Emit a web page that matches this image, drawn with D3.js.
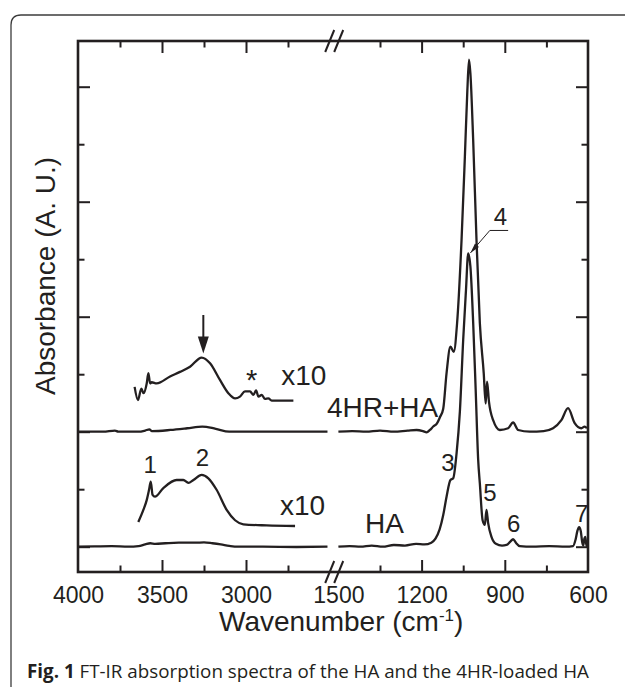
<!DOCTYPE html>
<html>

<head>
  <meta charset="utf-8">
  <title>FT-IR spectra</title>
  <style>
    body { margin: 0; background: #fff; }
    svg { font-family: "Liberation Sans", Arial, sans-serif; }
    text { fill: #231f20; }
  </style>
</head>

<body>

  <svg id="main" width="625" height="687"></svg>

  <script src="https://cdn.jsdelivr.net/npm/d3@7"></script>
  <script>

    // [wavenumber (cm-1), absorbance in tick units]
    const haLeft = [
      [4000, 0], [3900, 0.005], [3800, 0.01], [3700, 0.0], [3640, 0.01], [3600, 0.04],
      [3570, 0.06], [3540, 0.05], [3480, 0.06], [3400, 0.07], [3300, 0.07], [3250, 0.075],
      [3200, 0.06], [3150, 0.04], [3100, 0.015], [3050, 0.0], [2900, 0.0], [2700, -0.005], [2515, 0]
    ]
    const haRight = [
      [1500, 0], [1460, 0.01], [1420, 0.0], [1380, 0.02], [1340, 0.0], [1300, 0.03], [1260, 0.02],
      [1220, 0.05], [1190, 0.04], [1165, 0.07], [1150, 0.14], [1135, 0.3], [1122, 0.55], [1110, 0.87],
      [1096, 1.16], [1086, 1.19], [1074, 1.62], [1062, 2.35], [1050, 3.6], [1040, 4.46], [1032, 5.1],
      [1024, 4.87], [1014, 3.89], [1005, 2.73], [996, 1.51], [990, 1.1], [980, 0.46], [972, 0.38],
      [966, 0.64], [960, 0.41], [948, 0.17], [932, 0.05], [910, 0.02], [894, 0.03], [880, 0.09],
      [870, 0.13], [860, 0.07], [846, 0.01], [800, 0.0], [740, 0.01], [680, 0.0], [654, 0.01],
      [645, 0.12], [638, 0.28], [632, 0.34], [626, 0.27], [621, 0.08], [617, 0.02], [613, 0.14],
      [610, 0.17], [606, 0.04], [603, 0.0]
    ]
    const haX10 = [
      [3641, 0.43], [3611, 0.64], [3591, 0.81], [3577, 0.99], [3567, 1.13], [3556, 0.9], [3542, 0.87],
      [3492, 1.02], [3413, 1.16], [3373, 1.16], [3343, 1.11], [3313, 1.16], [3264, 1.25], [3224, 1.19],
      [3175, 0.99], [3115, 0.64], [3065, 0.46], [3016, 0.39], [2877, 0.37], [2708, 0.36]
    ]
    const hrLeft = [
      [4000, 2.0], [3850, 2.0], [3780, 2.02], [3760, 2.0], [3640, 2.0], [3600, 2.02], [3575, 2.04],
      [3560, 2.01], [3450, 2.03], [3350, 2.06], [3260, 2.09], [3180, 2.05], [3100, 2.0], [2900, 2.0], [2515, 2.0]
    ]
    const hrRight = [
      [1500, 2.0], [1450, 2.01], [1400, 2.0], [1350, 2.02], [1300, 2.0], [1250, 2.02], [1218, 2.03],
      [1195, 2.01], [1182, 1.99], [1170, 2.03], [1158, 2.09], [1145, 2.14], [1134, 2.25], [1122, 2.4],
      [1110, 3.02], [1096, 3.48], [1084, 3.39], [1072, 3.89], [1056, 5.33], [1044, 6.78], [1035, 7.94],
      [1029, 8.47], [1024, 8.23], [1014, 7.07], [1002, 5.33], [990, 3.89], [976, 3.02], [969, 2.49],
      [964, 2.87], [957, 2.52], [942, 2.2], [918, 2.03], [888, 2.06], [870, 2.16], [852, 2.03],
      [810, 2.0], [760, 2.01], [726, 2.06], [696, 2.2], [672, 2.41], [648, 2.15], [624, 2.06],
      [612, 2.09], [604, 2.06]
    ]
    const hrX10 = [
      [3663, 2.78], [3643, 2.55], [3623, 2.75], [3610, 2.67], [3591, 2.84], [3581, 3.02], [3571, 2.84],
      [3561, 2.86], [3532, 2.84], [3452, 2.96], [3393, 3.04], [3333, 3.13], [3264, 3.29], [3214, 3.19],
      [3155, 2.9], [3105, 2.67], [3065, 2.58], [3036, 2.61], [3006, 2.7], [2976, 2.7], [2956, 2.64],
      [2940, 2.72], [2926, 2.61], [2906, 2.64], [2887, 2.57], [2867, 2.58], [2847, 2.54], [2718, 2.54]
    ]

    const labelsLeft = [4000, 3500, 3000]
    const labelsRight = [1500, 1200, 900, 600]
    const majorLeft = [3500, 3000]
    const minorLeft = [3750, 3250, 2750]
    const majorRight = [1200, 900]
    const minorRight = [1350, 1050, 750]
    const yMajor = [0, 2, 4, 6, 8]
    const yMinor = [1, 3, 5, 7]

    const peakNumbers = [
      { t: '1', wn: 3571, a: 1.29 }, { t: '2', wn: 3259, a: 1.4 }, { t: '3', wn: 1105, a: 1.32 },
      { t: '4', wn: 916, a: 5.59 }, { t: '5', wn: 954, a: 0.8 }, { t: '6', wn: 868, a: 0.26 },
      { t: '7', wn: 623, a: 0.43 }
    ]
    const seriesNames = [
      { t: '4HR+HA', wn: 1140, a: 2.26, anchor: 'end' },
      { t: 'HA', wn: 1404, a: 0.23, anchor: 'start' },
      { t: 'x10', wn: 2790, a: 2.81, anchor: 'start' },
      { t: 'x10', wn: 2798, a: 0.55, anchor: 'start' }
    ]

    const svg = d3.select('#main')
    const margin = { top: 41, right: 37, bottom: 115, left: 78 }
    const innerWidth = 625 - margin.left - margin.right
    const innerHeight = 687 - margin.top - margin.bottom
    const ink = '#231f20'

    // outer figure box
    svg.append('path')
      .attr('d', 'M11,690 L11,25 Q11,15 21,15 L630,15')
      .attr('fill', 'none').attr('stroke', '#3c3c3c').attr('stroke-width', 1.3)

    const chart = svg.append('g')
      .attr('transform', `translate(${margin.left},${margin.top})`)

    const xLeft = d3.scaleLinear().domain([4000, 2500]).range([0, 252])
    const xRight = d3.scaleLinear().domain([1500, 600]).range([260.4, innerWidth])
    const x = wn => wn > 2000 ? xLeft(wn) : xRight(wn)
    const y = d3.scaleLinear().domain([-0.44, 8.795]).range([innerHeight, 0])

    // ticks (all pointing inward)
    function ticks(axis, vals, size, tr) {
      chart.append('g').attr('transform', tr)
        .call(axis.tickValues(vals).tickSizeInner(-size).tickSizeOuter(0).tickFormat(''))
        .call(g => g.select('.domain').remove())
        .call(g => g.selectAll('line').attr('stroke', ink).attr('stroke-width', 2))
    }
    ticks(d3.axisBottom(xLeft), majorLeft, 12, `translate(0,${innerHeight})`)
    ticks(d3.axisBottom(xLeft), minorLeft, 6.5, `translate(0,${innerHeight})`)
    ticks(d3.axisBottom(xRight), majorRight, 12, `translate(0,${innerHeight})`)
    ticks(d3.axisBottom(xRight), minorRight, 6.5, `translate(0,${innerHeight})`)
    ticks(d3.axisTop(xLeft), majorLeft, 12, 'translate(0,0)')
    ticks(d3.axisTop(xLeft), minorLeft, 6.5, 'translate(0,0)')
    ticks(d3.axisTop(xRight), majorRight, 12, 'translate(0,0)')
    ticks(d3.axisTop(xRight), minorRight, 6.5, 'translate(0,0)')
    ticks(d3.axisLeft(y), yMajor, 12, 'translate(0,0)')
    ticks(d3.axisLeft(y), yMinor, 6.5, 'translate(0,0)')
    ticks(d3.axisRight(y), yMajor, 12, `translate(${innerWidth},0)`)
    ticks(d3.axisRight(y), yMinor, 6.5, `translate(${innerWidth},0)`)

    // tick labels
    function labels(scale, vals) {
      chart.append('g').attr('transform', `translate(0,${innerHeight})`)
        .call(d3.axisBottom(scale).tickValues(vals).tickSize(0).tickPadding(15).tickFormat(d3.format('d')))
        .call(g => g.select('.domain').remove())
        .call(g => g.selectAll('text').attr('font-size', 23).attr('font-family', '"Liberation Sans", Arial, sans-serif').attr('fill', ink))
    }
    labels(xLeft, labelsLeft)
    labels(xRight, labelsRight)

    // frame
    chart.append('rect')
      .attr('width', innerWidth).attr('height', innerHeight)
      .attr('fill', 'none').attr('stroke', ink).attr('stroke-width', 2.6)

    // axis break marks
    const brk = (xLeft(2500) + xRight(1500)) / 2
    ;[0, innerHeight].forEach(yy => {
      [-4.5, 4.5].forEach(dx => {
        chart.append('line')
          .attr('x1', brk + dx - 4.5).attr('y1', yy + 11)
          .attr('x2', brk + dx + 4.5).attr('y2', yy - 11)
          .attr('stroke', ink).attr('stroke-width', 2)
      })
    })

    // spectra
    const line = d3.line().x(d => x(d[0])).y(d => y(d[1])).curve(d3.curveMonotoneX)
    ;[haLeft, haRight, haX10, hrLeft, hrRight, hrX10].forEach(s => {
      chart.append('path').datum(s)
        .attr('d', line)
        .attr('fill', 'none').attr('stroke', ink).attr('stroke-width', 2.3)
        .attr('stroke-linejoin', 'round')
    })

    // peak numbers and curve names
    chart.selectAll('.num').data(peakNumbers).join('text')
      .attr('x', d => x(d.wn)).attr('y', d => y(d.a))
      .attr('text-anchor', 'middle').attr('font-size', 24)
      .text(d => d.t)
    chart.selectAll('.name').data(seriesNames).join('text')
      .attr('x', d => x(d.wn)).attr('y', d => y(d.a))
      .attr('text-anchor', d => d.anchor).attr('font-size', 28)
      .text(d => d.t)
    chart.append('text')
      .attr('x', x(2966)).attr('y', y(2.72))
      .attr('text-anchor', 'middle').attr('font-size', 29).text('*')

    // arrow over the 3250 band
    const ax = x(3254), tip = y(3.36)
    chart.append('line').attr('x1', ax).attr('x2', ax).attr('y1', y(4.03)).attr('y2', tip - 12)
      .attr('stroke', ink).attr('stroke-width', 2)
    chart.append('path')
      .attr('d', `M${ax - 5.5},${tip - 17} L${ax + 5.5},${tip - 17} L${ax},${tip} Z`)
      .attr('fill', ink)

    // leader for peak 4
    const p0 = [x(1024), y(5.11)], p1 = [x(954), y(5.5)], p2 = [x(888), y(5.5)]
    chart.append('path')
      .attr('d', `M${p0[0]},${p0[1]} L${p1[0]},${p1[1]} L${p2[0]},${p2[1]}`)
      .attr('fill', 'none').attr('stroke', ink).attr('stroke-width', 1)
    const ang = Math.atan2(p1[1] - p0[1], p1[0] - p0[0])
    const hl = 10, hw = 2.6
    const bx = p0[0] + hl * Math.cos(ang), by = p0[1] + hl * Math.sin(ang)
    chart.append('path')
      .attr('d', `M${p0[0]},${p0[1]} L${bx - hw * Math.sin(ang)},${by + hw * Math.cos(ang)} L${bx + hw * Math.sin(ang)},${by - hw * Math.cos(ang)} Z`)
      .attr('fill', ink)

    // axis titles
    svg.append('text')
      .attr('transform', `translate(55,276) rotate(-90)`)
      .attr('text-anchor', 'middle').attr('font-size', 28)
      .text('Absorbance (A. U.)')

    const xt = svg.append('text')
      .attr('x', 219).attr('y', 631).attr('font-size', 28)
    xt.append('tspan').text('Wavenumber (cm')
    xt.append('tspan').attr('font-size', 17).attr('dy', -10).text('-1')
    xt.append('tspan').attr('dy', 10).text(')')

    // caption
    const cap = svg.append('text')
      .attr('x', 27).attr('y', 678)
      .style('font-family', '"Open Sans", "Noto Sans", sans-serif')
      .attr('font-size', 18.8).attr('fill', '#231f20')
    cap.append('tspan').attr('font-weight', 'bold').text('Fig. 1')
    cap.append('tspan').text(' FT-IR absorption spectra of the HA and the 4HR-loaded HA')

  </script>
</body>

</html>
